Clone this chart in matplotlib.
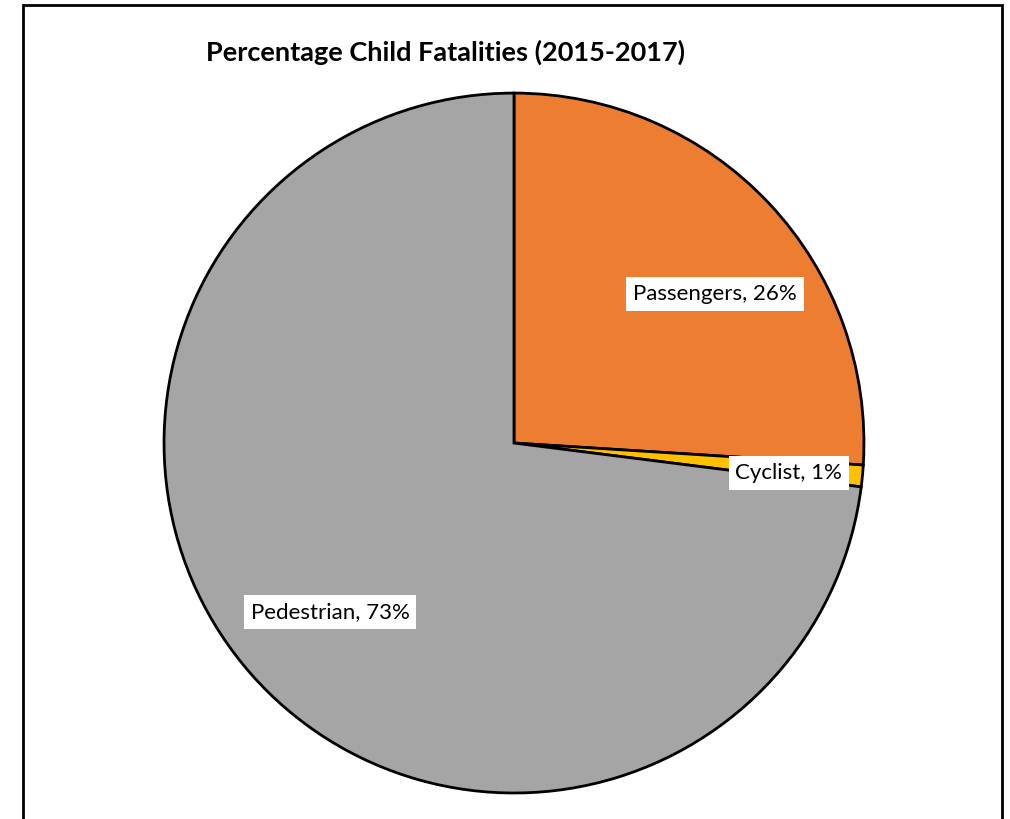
import math
import matplotlib
matplotlib.use('Agg')
import matplotlib.pyplot as plt
from matplotlib.patches import Rectangle

# data
categories = ['Passengers', 'Cyclist', 'Pedestrian']
shares = [26, 1, 73]
colors = ['#ED7D31', '#FFC000', '#A5A5A5']

# label placement (radius fraction, angle in degrees)
label_pos = [(0.715, 36.5), (0.79, -6.2), (0.714, 222.6)]

plt.rcParams['font.family'] = ['Lato', 'DejaVu Sans']

fig = plt.figure(figsize=(10.1, 8.19), dpi=100)
ax = fig.add_axes([0.1624, 0.0317, 0.693, 0.8547])

wedges, texts = ax.pie(shares, colors=colors, startangle=90, counterclock=False,
                       labels=['%s, %d%%' % (c, s) for c, s in zip(categories, shares)],
                       wedgeprops=dict(edgecolor='black', linewidth=2),
                       textprops=dict(fontsize=16))
ax.set_xlim(-1, 1)
ax.set_ylim(-1, 1)

for t, (r, a) in zip(texts, label_pos):
    t.set_position((r * math.cos(math.radians(a)), r * math.sin(math.radians(a))))
    t.set_ha('center')
    t.set_va('center')
    t.set_bbox(dict(facecolor='white', edgecolor='none', pad=5))

fig.text(446 / 1010, 1 - 52 / 819, 'Percentage Child Fatalities (2015-2017)',
         fontsize=19.5, fontweight='bold', ha='center', va='center')

# chart frame
fig.patches.append(Rectangle((23 / 1010, -0.1), (1002 - 23) / 1010, 1.1 - 5 / 819,
                             transform=fig.transFigure, fill=False,
                             edgecolor='black', linewidth=2))

fig.savefig('out.png', dpi=100)
